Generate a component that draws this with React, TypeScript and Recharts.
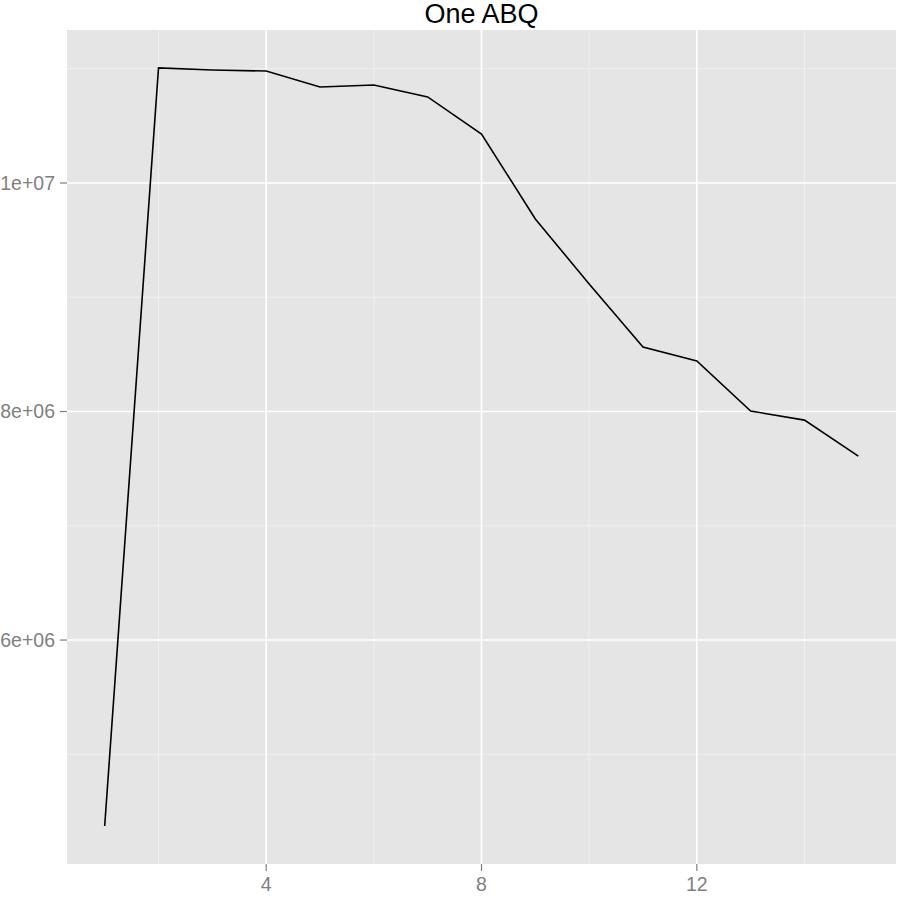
import React from 'react';
import { LineChart, Line, XAxis, YAxis, CartesianGrid } from 'recharts';

const xValues = [1, 2, 3, 4, 5, 6, 7, 8, 9, 10, 11, 12, 13, 14, 15];
const yValues = [
  4372000, 11007000, 10989000, 10980000, 10840000, 10858000, 10753000, 10429000,
  9685000, 9116000, 8565000, 8442000, 8004000, 7925000, 7610000,
];
const xTicks = [4, 8, 12];
const yTicks = [6000000, 8000000, 10000000];
const xMinor = [2, 6, 10, 14];
const yMinor = [5000000, 7000000, 9000000, 11000000];
const yTickLabels: Record<number, string> = {
  6000000: '6e+06',
  8000000: '8e+06',
  10000000: '1e+07',
};
const title = 'One ABQ';

const data = xValues.map((x, i) => ({ x, y: yValues[i] }));

const FONT = '"Liberation Sans", Arial, Helvetica, sans-serif';

export default function App() {
  return (
    <div style={{ position: 'absolute', left: 0, top: 0, width: 904, height: 900, background: '#fff' }}>
      <div
        style={{
          position: 'absolute',
          left: 67,
          width: 829,
          top: 0,
          textAlign: 'center',
          fontFamily: FONT,
          fontSize: 27,
          lineHeight: '29px',
          color: '#000',
        }}
      >
        {title}
      </div>
      <LineChart
        width={904}
        height={900}
        data={data}
        margin={{ top: 30, right: 8, bottom: 0, left: 0 }}
      >
        <CartesianGrid
          fill="#E5E5E5"
          fillOpacity={1}
          stroke="#F2F2F2"
          strokeWidth={0.8}
          horizontalValues={yMinor}
          verticalValues={xMinor}
        />
        <CartesianGrid
          stroke="#FFFFFF"
          strokeWidth={1.6}
          horizontalValues={yTicks}
          verticalValues={xTicks}
        />
        <XAxis
          dataKey="x"
          type="number"
          domain={[0.3, 15.7]}
          ticks={xTicks}
          allowDataOverflow
          axisLine={false}
          tickLine={{ stroke: '#7F7F7F', strokeWidth: 1.2 }}
          tickSize={7}
          tickMargin={6}
          height={36}
          tick={{ fill: '#7F7F7F', fontSize: 19.5, fontFamily: FONT }}
        />
        <YAxis
          type="number"
          domain={[4040000, 11339000]}
          ticks={yTicks}
          allowDataOverflow
          axisLine={false}
          tickLine={{ stroke: '#7F7F7F', strokeWidth: 1.2 }}
          tickSize={7}
          tickMargin={5}
          width={67}
          tickFormatter={(v: number) => yTickLabels[v] ?? String(v)}
          tick={{ fill: '#7F7F7F', fontSize: 19.5, fontFamily: FONT }}
        />
        <Line
          type="linear"
          dataKey="y"
          stroke="#000000"
          strokeWidth={1.6}
          dot={false}
          activeDot={false}
          isAnimationActive={false}
        />
      </LineChart>
    </div>
  );
}
